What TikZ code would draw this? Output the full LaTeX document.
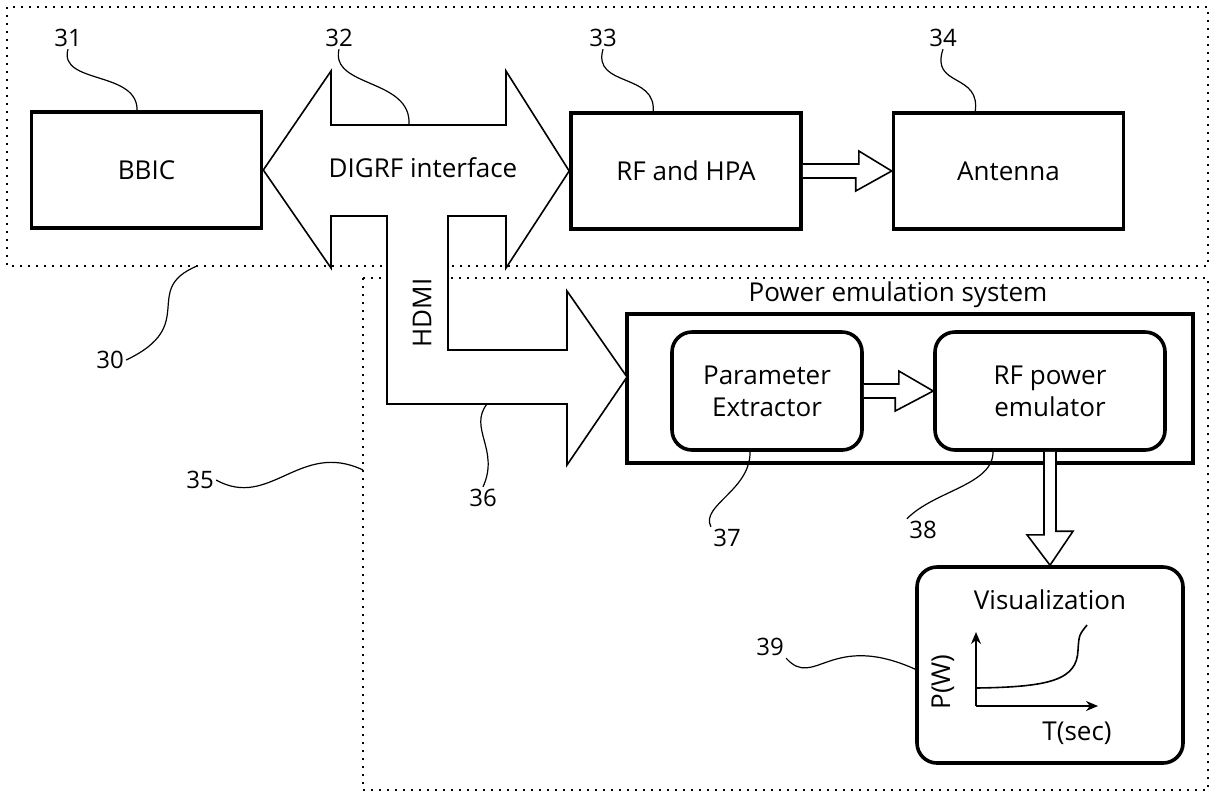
\documentclass[tikz,border=0pt]{standalone}
\usepackage{fontspec}
\setmainfont{Open Sans}
\usetikzlibrary{arrows.meta}

\begin{document}
\begin{tikzpicture}[x=0.5pt,y=-0.5pt,font=\fontsize{13}{16}\selectfont]
      \tikzstyle{block}=[draw, line width=1.8pt, inner sep=0pt, align=center, minimum width=115pt, minimum height=58pt]
      \tikzstyle{rblock}=[block, rounded corners=10pt, minimum height=59pt]
      \tikzstyle{zone}=[line width=0.8pt, dash pattern=on 1pt off 3pt]
      \tikzstyle{hollow}=[draw, fill=white, line width=0.8pt, line join=miter]
      \tikzstyle{leader}=[line width=0.6pt]
      \tikzstyle{num}=[inner sep=1pt, font=\fontsize{12}{14}\selectfont]
      \tikzstyle{axis}=[line width=0.8pt, -{Stealth[length=6pt,width=5pt]}]
      \useasboundingbox (0,0) rectangle (1213,794);

      % dotted zones 30 and 35
      \draw[zone] (7,7) rectangle (1208,266);
      \draw[zone] (363,278) rectangle (1208,790);

      \foreach \name/\txt/\x/\y in {bbic/BBIC/146.5/170, rf/RF and HPA/686/171, ant/Antenna/1008.5/171}
        \node[block] (\name) at (\x,\y) {\txt};

      \node[block, minimum width=283pt, minimum height=74.5pt] (pes) at (910,388.5) {};
      \node (pestitle) at (898,295) {Power emulation system};
      \node[rblock, minimum width=95pt] (pe) at (767,391) {Parameter\\Extractor};
      \node[rblock] (rfe) at (1050,391) {RF power\\emulator};
      \node[rblock, minimum width=133pt, minimum height=98pt] (vis) at (1050,665) {};
      \node (vistitle) at (1050,600) {Visualization};

      % DIGRF / HDMI block arrow
      \coordinate (hdmitip) at (627,377);
      \draw[hollow] (bbic.east) -- (331,71) -- (331,125) -- (506,125) -- (506,71) -- (rf.west)
        -- (506,268) -- (506,216) -- (448,216) -- (448,350) -- (567,350) -- (567,291) -- (hdmitip)
        -- (567,465) -- (567,404) -- (387,404) -- (387,216) -- (331,216) -- (331,268) -- cycle;
      \node (digrf) at (423,168) {DIGRF interface};
      \node[rotate=90] (hdmi) at (422,313) {HDMI};

      \draw[hollow] ([yshift=3.5pt]rf.east) -- ++(56,0) -- ++(0,-13) -- (ant.west) -- ++(-36,20) -- ++(0,-13) -- ([yshift=-3.5pt]rf.east);
      \draw[hollow] ([yshift=3.5pt]pe.east) -- ++(35,0) -- ++(0,-13) -- (rfe.west) -- ++(-38,20) -- ++(0,-13) -- ([yshift=-3.5pt]pe.east);
      \draw[hollow] ([xshift=-3pt]rfe.south) -- ++(0,83) -- ++(-17,0) -- (vis.north) -- ++(23,-34) -- ++(-17,0) -- ([xshift=3pt]rfe.south);

      % plot in the visualization box
      \coordinate (orig) at (976,706);
      \coordinate (ptip) at (976,632);
      \coordinate (ttip) at (1098,706);
      \draw[axis] (orig) -- (ptip);
      \draw[axis] (orig) -- (ttip);
      \draw[line width=0.8pt] (976,688) .. controls (1050,687) and (1077,680) .. (1078,650) .. controls (1079,635) .. (1087,625);
      \node[rotate=90] (pw) at (943,682) {P(W)};
      \node (ts) at (1077,733) {T(sec)};

      % reference numerals
      \foreach \name/\x/\y in {30/110/360, 31/68/38, 32/339/38, 33/603/38, 34/943/38, 35/200/480, 36/483/498, 37/727/538, 38/923/530, 39/770/647}
        \node[num] (L-\name) at (\x,\y) {\name};

      \foreach \name/\anc/\ax/\ay/\bx/\by/\ex/\ey in {30/east/200/325/140/290/197/266, 31/south/58/85/140/70/137/112,
          32/south/330/88/412/78/409/125, 33/south/592/88/658/72/653/113, 34/south/930/88/982/72/975/113,
          35/east/270/510/300/440/363/470, 36/north/500/450/468/428/487/404, 37/north west/700/505/752/490/750/450,
          38/north west/935/490/995/485/993/450, 39/south east/815/690/830/630/917/670}
        \draw[leader] (L-\name.\anc) .. controls (\ax,\ay) and (\bx,\by) .. (\ex,\ey);
\end{tikzpicture}
\end{document}
